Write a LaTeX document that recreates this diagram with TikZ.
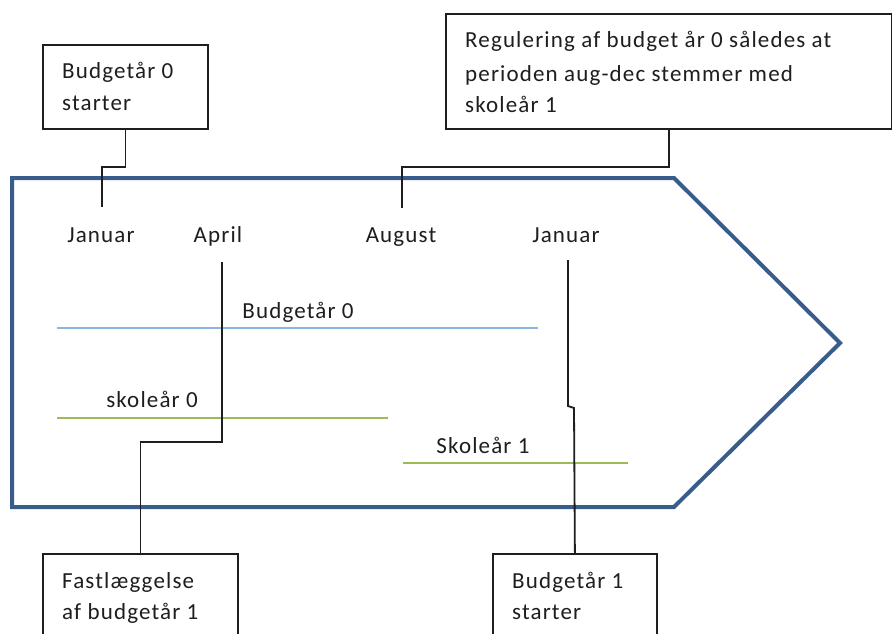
\documentclass[tikz,border=0pt]{standalone}
\usepackage{fontspec}
\setmainfont{Carlito}[LetterSpace=5]
\definecolor{arrowblue}{RGB}{56,93,138}
\definecolor{lineblue}{RGB}{141,180,226}
\definecolor{linegreen}{RGB}{155,187,89}
\definecolor{ink}{RGB}{30,30,30}
\tikzset{
  box/.style={draw=ink, line width=1.8pt, fill=white, anchor=north west, inner sep=0pt},
  txt/.style={anchor=base west, inner sep=0pt, text=ink, font=\fontsize{23}{31}\selectfont},
  conn/.style={draw=ink, line width=1.8pt},
  outline/.style={draw=arrowblue, line width=4pt, line join=miter},
}
\begin{document}
\begin{tikzpicture}[x=1pt, y=-1pt]
\useasboundingbox (0,0) rectangle (892,633);
\clip (0,0) rectangle (892,633);
\fill[white] (0,0) rectangle (892,633);

% big arrow outline
\draw[outline] (12,178) -- (674,178) -- (840,343) -- (674,507) -- (12,507) -- cycle;

% boxes
\node[box, minimum width=165pt, minimum height=84pt] (b1) at (42,44) {};
\node[txt] (b1t1) at (62,78) {Budgetår 0};
\node[txt] (b1t2) at (62,110) {starter};

\node[box, minimum width=446pt, minimum height=115pt] (b2) at (445,13) {};
\node[txt] (b2t1) at (465,47) {Regulering af budget år 0 således at};
\node[txt] (b2t2) at (465,81) {perioden aug-dec stemmer med};
\node[txt] (b2t3) at (465,112) {skoleår 1};

\node[box, minimum width=195pt, minimum height=120pt] (b3) at (42,553) {};
\node[txt] (b3t1) at (62,588) {Fastlæggelse};
\node[txt] (b3t2) at (62,619) {af budgetår 1};

\node[box, minimum width=164pt, minimum height=120pt] (b4) at (492,553) {};
\node[txt] (b4t1) at (512,588) {Budgetår 1};
\node[txt] (b4t2) at (512,619) {starter};

% months
\node[txt, anchor=base] (jan1) at (101,242) {Januar};
\node[txt, anchor=base] (apr) at (218,242) {April};
\node[txt, anchor=base] (aug) at (401,242) {August};
\node[txt, anchor=base] (jan2) at (566,242) {Januar};

% period lines
\draw[lineblue, line width=2pt] (57,328) -- (538,328);
\node[txt, anchor=base] (bud0) at (298,318) {Budgetår 0};
\draw[linegreen, line width=2pt] (57,418) -- (388,418);
\node[txt, anchor=base] (sk0) at (152,407) {skoleår 0};
\draw[linegreen, line width=2pt] (403,463) -- (628,463);
\node[txt, anchor=base] (sk1) at (483,453) {Skoleår 1};

% connectors
\coordinate (k1) at (102,167);
\coordinate (jan1top) at (102,207);
\draw[conn] (b1.south) |- (k1) -- (jan1top);

\coordinate (k2) at (402,167);
\coordinate (augtop) at (402,208);
\draw[conn] (b2.south) |- (k2) -- (augtop);

\coordinate (aprbot) at (222,262);
\coordinate (k3) at (222,442);
\draw[conn] (aprbot) -- (k3) -| (b3.north);

\coordinate (jan2bot) at (568,260);
\coordinate (k4a) at (568,406);
\coordinate (k4b) at (574,408);
\draw[conn] (jan2bot) -- (k4a) -- (k4b) -- (b4.north);
\end{tikzpicture}
\end{document}
